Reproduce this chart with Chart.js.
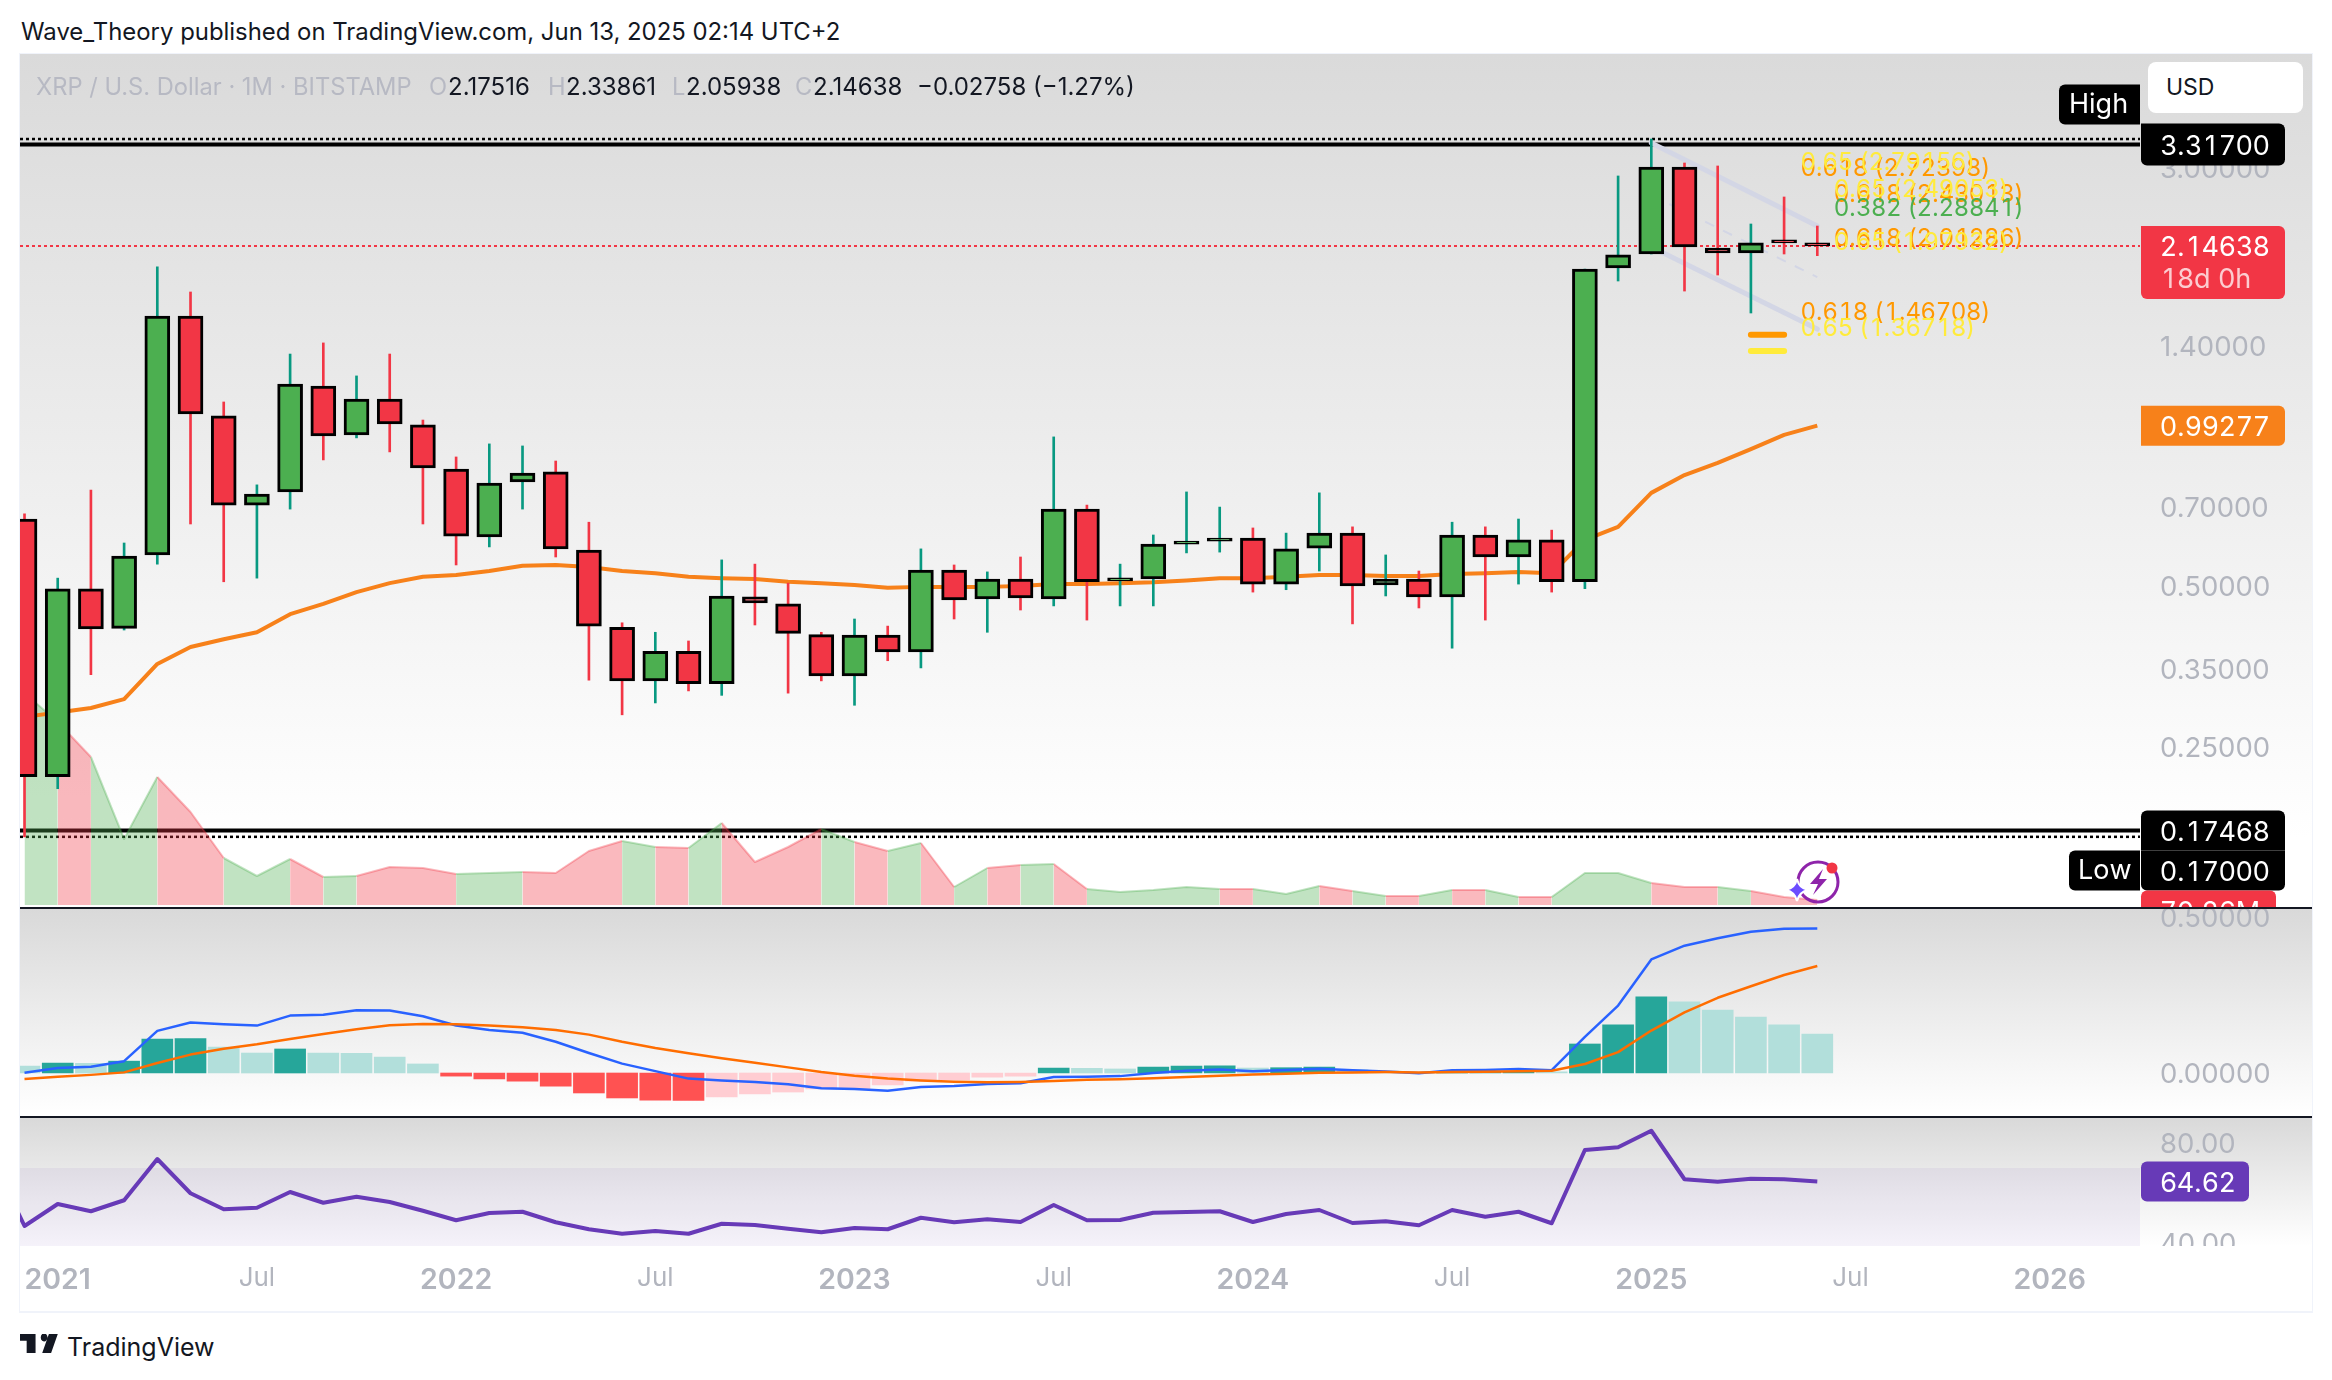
<!DOCTYPE html>
<html lang="en">
<head>
    <meta charset="UTF-8">
    <title>XRP / U.S. Dollar</title>
    <script src="https://cdn.jsdelivr.net/npm/chart.js"></script>
    <style>
        body { margin: 0; background: #fff; font-family: Inter, sans-serif; }
        canvas { position: absolute; left: 20px; display: block; }
        .txt { position: absolute; white-space: nowrap; line-height: 1; }
        .sep { position: absolute; left: 20px; width: 2292px; height: 2px; background: #131722; }
        #frame { position: absolute; left: 19px; top: 53px; width: 2292px; height: 1257px; border: 1px solid #f0f3fa; border-width: 1px 1px 2px 1px; }
    </style>
</head>
<body>
    <div id="frame"></div>
    <div class="txt" style="left:21px;top:20px;font-size:23.9px;color:#131722">Wave_Theory published on TradingView.com, Jun 13, 2025 02:14 UTC+2</div>

    <canvas id="mainChart" width="2292" height="853" style="top:54px;background:linear-gradient(#dadada,#ffffff 92%)"></canvas>
    <div class="sep" style="top:907px"></div>
    <canvas id="macdChart" width="2292" height="207" style="top:909px;background:linear-gradient(#d9d9d9,#ffffff)"></canvas>
    <div class="sep" style="top:1116px"></div>
    <canvas id="rsiChart" width="2292" height="192" style="top:1118px;background:linear-gradient(#d9d9d9,#ffffff 128px)"></canvas>

    <div class="txt" style="left:36px;top:75px;font-size:23.7px;color:#b7b9c3">XRP / U.S. Dollar · 1M · BITSTAMP</div>
    <div class="txt" style="left:429px;top:75px;font-size:23.7px;color:#b7b9c3">O</div>
    <div class="txt" style="left:448px;top:75px;font-size:24px;color:#131722">2.17516</div>
    <div class="txt" style="left:548px;top:75px;font-size:23.7px;color:#b7b9c3">H</div>
    <div class="txt" style="left:566px;top:75px;font-size:24px;color:#131722">2.33861</div>
    <div class="txt" style="left:672px;top:75px;font-size:23.7px;color:#b7b9c3">L</div>
    <div class="txt" style="left:686px;top:75px;font-size:24px;color:#131722">2.05938</div>
    <div class="txt" style="left:795px;top:75px;font-size:23.7px;color:#b7b9c3">C</div>
    <div class="txt" style="left:813px;top:75px;font-size:24px;color:#131722">2.14638</div>
    <div class="txt" style="left:917px;top:75px;font-size:24px;color:#131722">−0.02758 (−1.27%)</div>

    <div style="position:absolute;left:2148px;top:62px;width:155px;height:51px;background:#fff;border-radius:8px"></div>
    <div class="txt" style="left:2166px;top:76px;font-size:23px;color:#131722">USD</div>

    <svg style="position:absolute;left:1780px;top:855px" width="70" height="52" viewBox="0 0 70 52">
        <circle cx="38" cy="27" r="20" fill="none" stroke="#8e24aa" stroke-width="3"/>
        <path d="M43 14 L30 29 L38 29 L33 40 L47 24 L39 24 Z" fill="#8e24aa"/>
        <path d="M17 24 Q19 33 28 35 Q19 37 17 46 Q15 37 6 35 Q15 33 17 24 Z" fill="#6c4cff" stroke="#fff" stroke-width="2"/>
        <circle cx="52" cy="13" r="5.5" fill="#f23645"/>
    </svg>

    <svg style="position:absolute;left:20px;top:1334px" width="40" height="19" viewBox="0 2 36 14" preserveAspectRatio="none">
        <path d="M14 2H0v5h6v9h8V2Zm14 14h-8l6-14h8l-6 14Zm-8-9a3 3 0 1 0 0-5 3 3 0 0 0 0 5Z" fill="#131722"/>
    </svg>
    <div class="txt" style="left:67px;top:1335px;font-size:25px;color:#131722">TradingView</div>

    <script>
        // months counted from Jan 2021 = 0, candle arrays start at Dec 2020
        const firstMonth = -1;
        const opens = [0.665,0.220,0.493,0.416,0.570,1.589,1.035,0.706,0.747,1.177,0.954,1.113,0.996,0.824,0.616,0.780,0.814,0.582,0.418,0.332,0.377,0.328,0.476,0.462,0.405,0.339,0.404,0.376,0.534,0.472,0.514,0.472,0.694,0.510,0.514,0.597,0.605,0.613,0.503,0.587,0.626,0.501,0.514,0.476,0.621,0.565,0.608,0.508,1.953,2.074,3.013,2.128,2.083,2.193,2.17516];
        const highs = [0.680,0.516,0.753,0.600,1.962,1.762,1.099,0.770,1.350,1.416,1.229,1.350,1.017,0.868,0.918,0.910,0.853,0.656,0.426,0.409,0.394,0.558,0.548,0.505,0.409,0.433,0.420,0.585,0.546,0.530,0.565,0.946,0.706,0.548,0.621,0.747,0.700,0.640,0.626,0.744,0.643,0.570,0.532,0.656,0.643,0.665,0.634,1.945,2.899,3.397,3.065,3.026,2.359,2.649,2.33861];
        const lows = [0.170,0.209,0.341,0.413,0.548,0.651,0.508,0.516,0.694,0.857,0.942,0.887,0.651,0.546,0.590,0.694,0.565,0.333,0.287,0.302,0.318,0.312,0.422,0.315,0.332,0.299,0.362,0.351,0.433,0.409,0.450,0.458,0.431,0.458,0.458,0.575,0.577,0.486,0.491,0.532,0.424,0.478,0.454,0.382,0.431,0.503,0.486,0.493,1.847,2.074,1.769,1.895,1.610,2.074,2.05938];
        const closes = [0.220,0.493,0.415,0.567,1.589,1.044,0.706,0.740,1.187,0.950,1.113,1.000,0.828,0.618,0.776,0.810,0.585,0.420,0.332,0.377,0.328,0.478,0.464,0.407,0.339,0.404,0.376,0.534,0.470,0.514,0.474,0.694,0.508,0.514,0.597,0.603,0.613,0.503,0.585,0.626,0.499,0.514,0.476,0.621,0.565,0.608,0.508,1.945,2.066,3.013,2.137,2.083,2.175,2.175,2.14638];
        const ema = [0.2845,0.290,0.2955,0.307,0.357,0.384,0.397,0.409,0.442,0.462,0.486,0.505,0.519,0.523,0.532,0.544,0.546,0.541,0.532,0.527,0.519,0.516,0.514,0.508,0.505,0.501,0.495,0.497,0.497,0.497,0.499,0.503,0.503,0.505,0.507,0.511,0.516,0.516,0.519,0.523,0.523,0.521,0.521,0.525,0.527,0.530,0.527,0.608,0.643,0.744,0.803,0.846,0.898,0.954,0.99277];
        const volumeM = [2968,2562,2072,924,1792,1302,658,406,644,392,406,532,518,434,448,462,448,756,896,812,798,1148,602,812,1064,882,756,868,252,518,560,574,224,182,210,252,224,224,154,266,196,126,126,210,210,112,112,448,448,308,252,252,196,112,70];
        const macdHist = [0.022,0.032,0.031,0.038,0.109,0.110,0.083,0.064,0.077,0.064,0.063,0.051,0.029,-0.010,-0.019,-0.026,-0.042,-0.064,-0.080,-0.087,-0.088,-0.077,-0.067,-0.061,-0.051,-0.051,-0.038,-0.026,-0.022,-0.013,-0.010,0.016,0.015,0.013,0.019,0.022,0.023,0.016,0.017,0.019,0.010,0.006,0.001,0.002,0.003,0.005,0.004,0.093,0.154,0.244,0.228,0.202,0.179,0.154,0.125];
        const macdLine = [0.001,0.016,0.020,0.038,0.135,0.162,0.156,0.152,0.184,0.187,0.201,0.200,0.182,0.152,0.138,0.129,0.100,0.064,0.030,0.006,-0.018,-0.024,-0.029,-0.036,-0.049,-0.051,-0.057,-0.045,-0.042,-0.035,-0.033,-0.013,-0.012,-0.010,0.000,0.007,0.011,0.006,0.010,0.014,0.009,0.005,-0.001,0.009,0.010,0.013,0.009,0.116,0.216,0.364,0.408,0.432,0.453,0.462,0.463];
        const macdSignal = [-0.019,-0.012,-0.006,0.002,0.032,0.059,0.078,0.092,0.109,0.125,0.140,0.153,0.157,0.156,0.152,0.147,0.138,0.123,0.100,0.080,0.063,0.047,0.033,0.018,0.003,-0.009,-0.018,-0.024,-0.028,-0.030,-0.029,-0.026,-0.022,-0.020,-0.017,-0.013,-0.009,-0.005,-0.002,0.001,0.002,0.003,0.002,0.003,0.004,0.006,0.007,0.029,0.067,0.136,0.194,0.241,0.278,0.314,0.343];
        // rsi starts one month earlier, the line comes in from off the left edge
        const rsiFirstMonth = -2;
        const rsi = [74.5,46.8,55.6,52.7,57.1,73.6,59.9,53.5,54.1,60.4,56.1,58.5,56.4,52.9,49.1,52.0,52.5,48.3,45.5,43.7,44.8,43.7,47.7,47.2,45.7,44.3,46.0,45.5,50.1,48.3,49.5,48.4,55.2,49.1,49.2,52.1,52.4,52.7,48.4,51.6,53.2,48.0,48.7,47.1,53.2,50.5,52.5,47.9,77.2,78.3,84.9,65.5,64.5,65.7,65.5,64.62];

        const priceTicks = [3, 1.4, 0.7, 0.5, 0.35, 0.25];
        const macdTicks = [0.5, 0];
        const rsiTicks = [80, 40];
        const timeTickMonths = [0, 6, 12, 18, 24, 30, 36, 42, 48, 54, 60];
        const timeTickLabels = ['2021', 'Jul', '2022', 'Jul', '2023', 'Jul', '2024', 'Jul', '2025', 'Jul', '2026'];

        const highLevel = 3.317, highWick = 3.397, lowLevel = 0.17468, lowWick = 0.17;
        const lastPrice = 2.14638, lastEma = 0.99277, lastRsi = 64.62;

        const channelMonths = [48, 53];
        const channelUpper = [3.34, 2.339];
        const channelMiddle = [2.67, 1.878];
        const channelLower = [2.137, 1.503];

        const fibLevels = [1.46708, 1.36718];
        const fibMonths = [51, 52];
        const fibTexts = ['0.618 (2.72398)', '0.65 (2.79156)', '0.618 (2.43013)', '0.65 (2.49053)', '0.382 (2.28841)', '0.618 (2.01286)', '0.65 (1.97932)', '0.618 (1.46708)', '0.65 (1.36718)'];
        const fibPrices = [2.72398, 2.79156, 2.43013, 2.49053, 2.28841, 2.01286, 1.97932, 1.46708, 1.36718];
        const fibStartMonths = [52.5, 52.5, 53.5, 53.5, 53.5, 53.5, 53.5, 52.5, 52.5];
        const fibColors = ['#ff9800', '#ffeb3b', '#ff9800', '#ffeb3b', '#4caf50', '#ff9800', '#ffeb3b', '#ff9800', '#ffeb3b'];

        const GREEN = '#4caf50', RED = '#f23645', TEAL = '#089981', GREY = '#b2b5be';
        const FONT = 'Inter, sans-serif';
        const X_MIN = -1.136, X_MAX = 62.72, AXIS_W = 172;

        const pts = (values, first) => values.map((v, i) => ({ x: first + i, y: v }));
        const isUp = i => closes[i] >= opens[i];

        function flatLine(value, color, width, dash, order) {
            return {
                type: 'line', data: [{ x: X_MIN, y: value }, { x: X_MAX, y: value }],
                borderColor: color, borderWidth: width, borderDash: dash || [], pointRadius: 0, order: order
            };
        }

        function lineSet(data, color, width, order, extra) {
            return Object.assign({
                type: 'line', data: data, borderColor: color, borderWidth: width,
                pointRadius: 0, tension: 0, borderJoinStyle: 'round', order: order
            }, extra || {});
        }

        function xAxis(show) {
            return {
                type: 'linear', min: X_MIN, max: X_MAX, offset: false, display: show,
                grid: { display: false }, border: { display: false },
                afterBuildTicks: s => { s.ticks = timeTickMonths.map(v => ({ value: v })); },
                afterFit: s => { s.height = show ? 64 : 0; s.paddingLeft = 0; s.paddingRight = 0; },
                ticks: {
                    autoSkip: false, maxRotation: 0, padding: 9, color: GREY,
                    font: ctx => ctx.index % 2 === 0
                        ? { family: FONT, size: 28.5, weight: '600' }
                        : { family: FONT, size: 26, weight: '400' },
                    callback: v => timeTickLabels[timeTickMonths.indexOf(v)]
                }
            };
        }

        function yAxis(type, min, max, tickValues, digits) {
            return {
                type: type, position: 'right', min: min, max: max,
                grid: { display: false, drawTicks: false }, border: { display: false },
                afterBuildTicks: s => { s.ticks = tickValues.map(v => ({ value: v })); },
                afterFit: s => { s.width = AXIS_W; s.paddingTop = 0; s.paddingBottom = 0; },
                ticks: {
                    autoSkip: false, padding: 20, labelOffset: 2, color: GREY, font: { family: FONT, size: 27.5 },
                    callback: v => v.toFixed(digits)
                }
            };
        }

        function baseOptions(scales) {
            return {
                responsive: false, devicePixelRatio: 1, animation: false, events: [],
                layout: { padding: 0 },
                plugins: { legend: { display: false }, tooltip: { enabled: false } },
                scales: scales
            };
        }

        function tag(ctx, left, right, top, bottom, color, radius) {
            ctx.fillStyle = color;
            ctx.beginPath();
            ctx.roundRect(left, top, right - left, bottom - top, radius);
            ctx.fill();
        }

        // canvas text has no tabular figures, so digits get a fixed cell
        function numText(ctx, text, x, y, size, color) {
            ctx.fillStyle = color || '#fff';
            ctx.font = size + 'px ' + FONT;
            ctx.textAlign = 'center';
            ctx.textBaseline = 'middle';
            let pos = x;
            for (const ch of text) {
                let adv = ctx.measureText(ch).width;
                if (ch >= '0' && ch <= '9') adv = size * 0.63;
                ctx.fillText(ch, pos + adv / 2, y + 2);
                pos += adv;
            }
        }

        const mainLabels = {
            id: 'mainLabels',
            afterDraw(chart) {
                const ctx = chart.ctx, y = chart.scales.y, x = chart.scales.x;
                const right = chart.chartArea.right, left = right + 1, end = right + 145, textX = right + 20;
                ctx.save();

                // fib texts sit above their level
                fibTexts.forEach((t, i) => {
                    numText(ctx, t, x.getPixelForValue(fibStartMonths[i]), y.getPixelForValue(fibPrices[i]) - 24, 24, fibColors[i]);
                });

                const hi = y.getPixelForValue(highLevel);
                tag(ctx, right - 81, right, hi - 60, hi - 20, '#000', [6, 0, 0, 6]);
                numText(ctx, 'High', right - 71, hi - 42, 27);
                tag(ctx, left, end, hi - 21, hi + 21, '#000', [0, 6, 6, 6]);
                numText(ctx, highLevel.toFixed(5), textX, hi, 27);

                const last = y.getPixelForValue(lastPrice);
                tag(ctx, left, end, last - 20, last + 53, RED, [0, 6, 6, 6]);
                numText(ctx, lastPrice.toFixed(5), textX, last, 27);
                numText(ctx, '18d 0h', textX, last + 32, 27, 'rgba(255,255,255,0.75)');

                const e = y.getPixelForValue(lastEma);
                tag(ctx, left, end, e - 20, e + 20, '#f7811a', [0, 6, 6, 0]);
                numText(ctx, lastEma.toFixed(5), textX, e, 27);

                const lo = y.getPixelForValue(lowLevel);
                tag(ctx, left, end, lo - 20, lo + 20, '#000', [6, 6, 0, 0]);
                numText(ctx, lowLevel.toFixed(5), textX, lo, 27);
                tag(ctx, right - 71, right, lo + 20, lo + 60, '#000', [6, 0, 0, 6]);
                numText(ctx, 'Low', right - 62, lo + 38, 27);
                tag(ctx, left, end, lo + 20, lo + 60, '#000', [0, 0, 6, 6]);
                numText(ctx, lowWick.toFixed(5), textX, lo + 40, 27);

                tag(ctx, left, right + 136, lo + 60, lo + 100, RED, [6, 6, 0, 0]);
                numText(ctx, '70.26M', textX, lo + 80, 27);
                ctx.restore();
            }
        };

        const rsiLabel = {
            id: 'rsiLabel',
            afterDraw(chart) {
                const ctx = chart.ctx, right = chart.chartArea.right, bottom = chart.chartArea.bottom;
                const p = chart.scales.y.getPixelForValue(lastRsi);
                ctx.save();
                // the 40.00 label is cut by the pane edge
                ctx.clearRect(right, bottom, AXIS_W, 30);
                tag(ctx, right + 1, right + 109, p - 20, p + 20, '#673ab7', 6);
                numText(ctx, lastRsi.toFixed(2), right + 20, p, 27);
                ctx.restore();
            }
        };

        const wicks = opens.map((o, i) => ({ x: firstMonth + i, y: [lows[i], highs[i]] }));
        const bodies = opens.map((o, i) => ({ x: firstMonth + i, y: [o, closes[i]] }));
        const channel = values => values.map((v, i) => ({ x: channelMonths[i], y: v }));

        new Chart(document.getElementById('mainChart'), {
            type: 'bar',
            data: {
                datasets: [
                    {
                        data: bodies, grouped: false, barThickness: 25, minBarLength: 3, borderWidth: 3,
                        borderColor: '#000', borderSkipped: false, order: 1,
                        backgroundColor: opens.map((o, i) => isUp(i) ? GREEN : RED)
                    },
                    {
                        data: wicks, grouped: false, barThickness: 2, borderWidth: 0, order: 2,
                        backgroundColor: opens.map((o, i) => isUp(i) ? TEAL : RED)
                    },
                    lineSet(pts(ema, firstMonth), '#f7811a', 4, 3),
                    lineSet(channel(channelUpper), '#d3d6e5', 5, 4, { borderCapStyle: 'round' }),
                    lineSet(channel(channelMiddle), '#d3d6e5', 2, 4, { borderDash: [10, 10] }),
                    lineSet(channel(channelLower), '#d3d6e5', 5, 4, { borderCapStyle: 'round' }),
                    lineSet(fibMonths.map(m => ({ x: m, y: fibLevels[0] })), '#ff9800', 6, 3, { borderCapStyle: 'round' }),
                    lineSet(fibMonths.map(m => ({ x: m, y: fibLevels[1] })), '#ffeb3b', 6, 3, { borderCapStyle: 'round' }),
                    flatLine(lastPrice, RED, 2, [3, 3], 5),
                    lineSet(pts(volumeM, firstMonth), 'rgba(76,175,80,0.35)', 2, 6, {
                        yAxisID: 'yVol', fill: { value: 0 }, backgroundColor: 'rgba(76,175,80,0.35)',
                        segment: {
                            borderColor: c => isUp(c.p1DataIndex) ? 'rgba(76,175,80,0.35)' : 'rgba(242,54,69,0.35)',
                            backgroundColor: c => isUp(c.p1DataIndex) ? 'rgba(76,175,80,0.35)' : 'rgba(242,54,69,0.35)'
                        }
                    }),
                    flatLine(highLevel, '#000', 4, [], 7),
                    flatLine(highWick, '#000', 2.5, [3, 3], 7),
                    flatLine(lowLevel, '#000', 4, [], 7),
                    flatLine(lowWick, '#000', 2.5, [3, 3], 7)
                ]
            },
            options: baseOptions({
                x: xAxis(false),
                y: yAxis('logarithmic', 0.1258, 4.893, priceTicks, 5),
                yVol: { type: 'linear', display: false, min: -28, max: 11914 }
            }),
            plugins: [mainLabels]
        });

        function histColor(v, i) {
            const prev = i > 0 ? macdHist[i - 1] : v;
            if (v >= 0) return v > prev ? '#26a69a' : '#b2dfdb';
            return v < prev ? '#ff5252' : '#ffcdd2';
        }

        new Chart(document.getElementById('macdChart'), {
            type: 'bar',
            data: {
                datasets: [
                    {
                        data: pts(macdHist, firstMonth), barThickness: 31, borderWidth: 0, order: 3,
                        backgroundColor: macdHist.map(histColor)
                    },
                    lineSet(pts(macdSignal, firstMonth), '#ff6d00', 2.5, 1),
                    lineSet(pts(macdLine, firstMonth), '#2962ff', 2.5, 2)
                ]
            },
            options: baseOptions({
                x: xAxis(false),
                y: yAxis('linear', -0.1378, 0.5256, macdTicks, 5)
            })
        });

        new Chart(document.getElementById('rsiChart'), {
            type: 'line',
            data: {
                datasets: [
                    lineSet(pts(rsi, rsiFirstMonth), '#673ab7', 4, 1),
                    lineSet([{ x: X_MIN, y: 70 }, { x: X_MAX, y: 70 }], 'rgba(0,0,0,0)', 0, 2, {
                        fill: { value: 30 }, backgroundColor: 'rgba(126,87,194,0.08)'
                    })
                ]
            },
            options: baseOptions({
                x: xAxis(true),
                y: yAxis('linear', 38.8, 90, rsiTicks, 2)
            }),
            plugins: [rsiLabel]
        });
    </script>
</body>
</html>
